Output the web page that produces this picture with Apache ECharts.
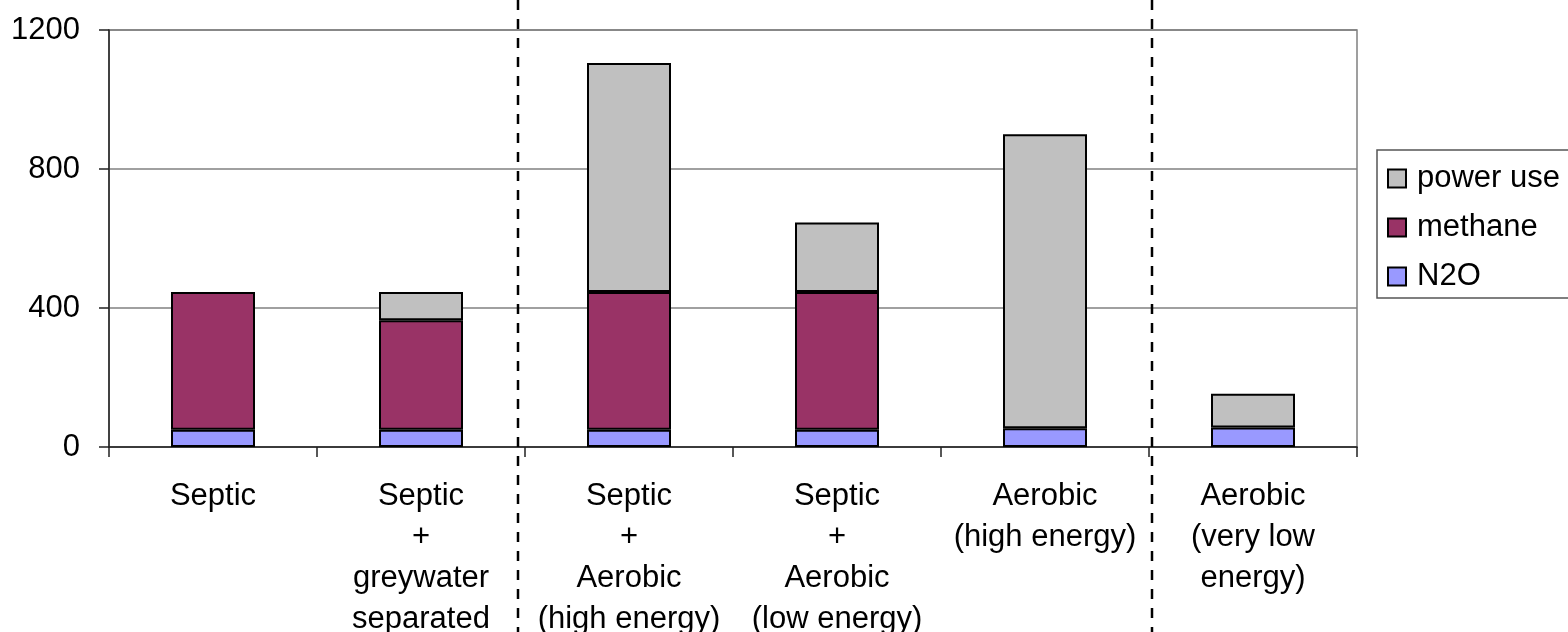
<!DOCTYPE html>
<html>
<head>
<meta charset="utf-8">
<script src="https://cdn.jsdelivr.net/npm/echarts@6/dist/echarts.min.js"></script>
<style>
html,body{margin:0;padding:0;background:#fff;}
#chart{width:1568px;height:632px;}
</style>
</head>
<body>
<div id="chart"></div>
<script>
const categories = [
  'Septic',
  'Septic\n+\ngreywater\nseparated',
  'Septic\n+\nAerobic\n(high energy)',
  'Septic\n+\nAerobic\n(low energy)',
  'Aerobic\n(high energy)',
  'Aerobic\n(very low\nenergy)'
];
const n2o      = [50, 50, 50, 50, 54, 56];
const methane  = [396, 315, 396, 396, null, null];
const powerUse = [null, 81, 659, 200, 846, 97];
const yTicks = [0, 400, 800, 1200];
// group separators, as category boundaries (index) with small offsets in px
const separators = [{boundary: 2, offset: -7}, {boundary: 5, offset: 3}];

const FONT = '"Liberation Sans", Arial, sans-serif';
const chart = echarts.init(document.getElementById('chart'));

function barSeries(name, data, color) {
  return {
    name: name, type: 'bar', stack: 'total', data: data, barWidth: 84,
    itemStyle: {color: color, borderColor: '#000', borderWidth: 2},
    emphasis: {disabled: true}
  };
}

chart.setOption({
  animation: false,
  textStyle: {fontFamily: FONT},
  grid: {left: 109, right: 211, top: 30, bottom: 185, show: true,
         outerBoundsMode: 'none', containLabel: false,
         borderColor: '#808080', borderWidth: 1.5, backgroundColor: 'transparent'},
  legend: {
    data: ['power use', 'methane', 'N2O'],
    orient: 'vertical', left: 1377, top: 150,
    itemWidth: 18, itemHeight: 18, itemGap: 18,
    padding: [13, 12, 6, 10],
    borderColor: '#555', borderWidth: 1.5,
    icon: 'rect',
    selectedMode: false,
    textStyle: {fontSize: 31, color: '#000', fontFamily: FONT, lineHeight: 30, padding: [0, 0, 0, 6]}
  },
  xAxis: {
    type: 'category', data: categories,
    axisLine: {lineStyle: {color: '#222', width: 1.5}},
    axisTick: {show: true, length: 10, alignWithLabel: false, lineStyle: {color: '#222', width: 1.5}},
    axisLabel: {fontSize: 31, lineHeight: 41, color: '#000', margin: 29, interval: 0, fontFamily: FONT}
  },
  yAxis: {
    type: 'value', min: 0, max: 1200, interval: 400,
    axisLine: {show: true, lineStyle: {color: '#222', width: 1.5}},
    axisTick: {show: true, length: 10, lineStyle: {color: '#222', width: 1.5}},
    axisLabel: {fontSize: 31, color: '#000', margin: 29, fontFamily: FONT,
      formatter: v => yTicks.includes(v) ? String(v) : ''},
    splitLine: {lineStyle: {color: '#808080', width: 1.5}}
  },
  series: [
    barSeries('N2O', n2o, '#9999FF'),
    barSeries('methane', methane, '#993366'),
    barSeries('power use', powerUse, '#C0C0C0')
  ]
});

// dashed group separators
const c0 = chart.convertToPixel({xAxisIndex: 0}, categories[0]);
const c1 = chart.convertToPixel({xAxisIndex: 0}, categories[1]);
const bw = c1 - c0;
const H = chart.getHeight();
chart.setOption({
  graphic: separators.map(s => {
    const x = c0 - bw / 2 + s.boundary * bw + s.offset;
    return {
      type: 'line', silent: true, z: 100,
      shape: {x1: x, y1: 0, x2: x, y2: H},
      style: {stroke: '#000', lineWidth: 2.5, lineDash: [10, 9]}
    };
  })
});
</script>
</body>
</html>
